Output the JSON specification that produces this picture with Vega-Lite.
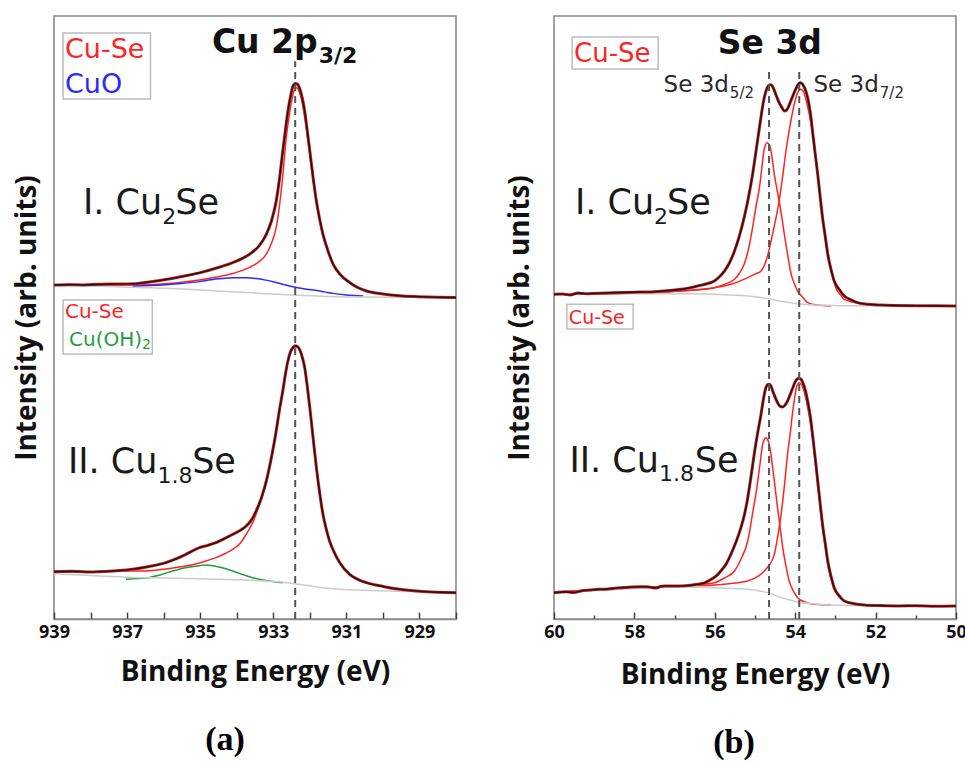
{
 "$schema": "https://vega.github.io/schema/vega-lite/v6.json",
 "background": "white",
 "padding": {"left": 12, "top": 15, "right": 0, "bottom": 0},
 "config": {
  "view": {"stroke": "#8a8a8a", "strokeWidth": 1.6},
  "axis": {"grid": false, "labelFont": "Open Sans", "labelFontWeight": "bold", "titleFont": "Open Sans", "titleFontWeight": "bold", "labelColor": "#111", "titleColor": "#111"},
  "concat": {"spacing": 47}
 },
 "datasets": {
  "a": [
   {"c":"I-d","k":"data","x":939.0,"y":55.4},{"c":"I-d","k":"data","x":938.6,"y":55.45},{"c":"I-d","k":"data","x":938.2,"y":55.4},{"c":"I-d","k":"data","x":937.77,"y":55.5},{"c":"I-d","k":"data","x":937.3,"y":55.55},{"c":"I-d","k":"data","x":936.85,"y":55.6},{"c":"I-d","k":"data","x":936.4,"y":55.9},{"c":"I-d","k":"data","x":935.94,"y":56.3},{"c":"I-d","k":"data","x":935.5,"y":56.8},{"c":"I-d","k":"data","x":935.02,"y":57.4},{"c":"I-d","k":"data","x":934.55,"y":58.2},{"c":"I-d","k":"data","x":934.11,"y":59.1},{"c":"I-d","k":"data","x":933.65,"y":60.5},{"c":"I-d","k":"data","x":933.4,"y":61.8},{"c":"I-d","k":"data","x":933.19,"y":63.8},{"c":"I-d","k":"data","x":933.05,"y":66.0},{"c":"I-d","k":"data","x":932.92,"y":69.3},{"c":"I-d","k":"data","x":932.83,"y":73.0},{"c":"I-d","k":"data","x":932.74,"y":77.6},{"c":"I-d","k":"data","x":932.67,"y":81.0},{"c":"I-d","k":"data","x":932.6,"y":84.2},{"c":"I-d","k":"data","x":932.53,"y":86.6},{"c":"I-d","k":"data","x":932.46,"y":88.4},{"c":"I-d","k":"data","x":932.4,"y":88.8},{"c":"I-d","k":"data","x":932.34,"y":88.7},{"c":"I-d","k":"data","x":932.28,"y":88.0},{"c":"I-d","k":"data","x":932.21,"y":86.5},{"c":"I-d","k":"data","x":932.14,"y":84.2},{"c":"I-d","k":"data","x":932.07,"y":81.0},{"c":"I-d","k":"data","x":932.0,"y":77.6},{"c":"I-d","k":"data","x":931.91,"y":73.2},{"c":"I-d","k":"data","x":931.82,"y":69.3},{"c":"I-d","k":"data","x":931.73,"y":66.3},{"c":"I-d","k":"data","x":931.64,"y":63.8},{"c":"I-d","k":"data","x":931.5,"y":61.0},{"c":"I-d","k":"data","x":931.36,"y":58.8},{"c":"I-d","k":"data","x":931.15,"y":57.0},{"c":"I-d","k":"data","x":930.91,"y":55.8},{"c":"I-d","k":"data","x":930.7,"y":55.0},{"c":"I-d","k":"data","x":930.45,"y":54.4},{"c":"I-d","k":"data","x":930.0,"y":53.9},{"c":"I-d","k":"data","x":929.54,"y":53.6},{"c":"I-d","k":"data","x":929.0,"y":53.45},{"c":"I-d","k":"data","x":928.5,"y":53.35},{"c":"I-d","k":"data","x":928.0,"y":53.3},
   {"c":"I-s","k":"Cu-Se","x":939.0,"y":55.4},{"c":"I-s","k":"Cu-Se","x":938.0,"y":55.4},{"c":"I-s","k":"Cu-Se","x":936.85,"y":55.4},{"c":"I-s","k":"Cu-Se","x":935.94,"y":55.6},{"c":"I-s","k":"Cu-Se","x":935.02,"y":56.2},{"c":"I-s","k":"Cu-Se","x":934.55,"y":56.7},{"c":"I-s","k":"Cu-Se","x":934.11,"y":57.3},{"c":"I-s","k":"Cu-Se","x":933.65,"y":58.3},{"c":"I-s","k":"Cu-Se","x":933.4,"y":59.2},{"c":"I-s","k":"Cu-Se","x":933.19,"y":60.5},{"c":"I-s","k":"Cu-Se","x":933.05,"y":62.3},{"c":"I-s","k":"Cu-Se","x":932.92,"y":64.9},{"c":"I-s","k":"Cu-Se","x":932.83,"y":68.5},{"c":"I-s","k":"Cu-Se","x":932.74,"y":73.5},{"c":"I-s","k":"Cu-Se","x":932.65,"y":79.5},{"c":"I-s","k":"Cu-Se","x":932.55,"y":84.0},{"c":"I-s","k":"Cu-Se","x":932.48,"y":86.5},{"c":"I-s","k":"Cu-Se","x":932.42,"y":87.8},{"c":"I-s","k":"Cu-Se","x":932.36,"y":88.1},{"c":"I-s","k":"Cu-Se","x":932.3,"y":87.6},{"c":"I-s","k":"Cu-Se","x":932.22,"y":85.9},{"c":"I-s","k":"Cu-Se","x":932.14,"y":83.3},{"c":"I-s","k":"Cu-Se","x":932.07,"y":80.2},{"c":"I-s","k":"Cu-Se","x":932.0,"y":77.0},{"c":"I-s","k":"Cu-Se","x":931.91,"y":72.8},{"c":"I-s","k":"Cu-Se","x":931.82,"y":69.0},{"c":"I-s","k":"Cu-Se","x":931.73,"y":66.0},{"c":"I-s","k":"Cu-Se","x":931.64,"y":63.6},{"c":"I-s","k":"Cu-Se","x":931.5,"y":60.9},{"c":"I-s","k":"Cu-Se","x":931.36,"y":58.7},{"c":"I-s","k":"Cu-Se","x":931.15,"y":57.0},{"c":"I-s","k":"Cu-Se","x":930.91,"y":55.8},{"c":"I-s","k":"Cu-Se","x":930.7,"y":55.0},{"c":"I-s","k":"Cu-Se","x":930.45,"y":54.4},{"c":"I-s","k":"Cu-Se","x":930.0,"y":53.9},{"c":"I-s","k":"Cu-Se","x":929.54,"y":53.6},{"c":"I-s","k":"Cu-Se","x":929.0,"y":53.45},{"c":"I-s","k":"Cu-Se","x":928.0,"y":53.3},
   {"c":"I-o","k":"CuO","x":936.85,"y":55.2},{"c":"I-o","k":"CuO","x":936.4,"y":55.3},{"c":"I-o","k":"CuO","x":935.94,"y":55.45},{"c":"I-o","k":"CuO","x":935.5,"y":55.65},{"c":"I-o","k":"CuO","x":935.02,"y":55.95},{"c":"I-o","k":"CuO","x":934.7,"y":56.25},{"c":"I-o","k":"CuO","x":934.4,"y":56.45},{"c":"I-o","k":"CuO","x":934.1,"y":56.6},{"c":"I-o","k":"CuO","x":933.74,"y":56.6},{"c":"I-o","k":"CuO","x":933.45,"y":56.45},{"c":"I-o","k":"CuO","x":933.2,"y":56.2},{"c":"I-o","k":"CuO","x":932.95,"y":55.85},{"c":"I-o","k":"CuO","x":932.7,"y":55.45},{"c":"I-o","k":"CuO","x":932.46,"y":55.1},{"c":"I-o","k":"CuO","x":932.2,"y":54.8},{"c":"I-o","k":"CuO","x":931.9,"y":54.55},{"c":"I-o","k":"CuO","x":931.6,"y":54.25},{"c":"I-o","k":"CuO","x":931.36,"y":54.0},{"c":"I-o","k":"CuO","x":931.0,"y":53.75},{"c":"I-o","k":"CuO","x":930.54,"y":53.57},
   {"c":"I-b","k":"bg","x":939.0,"y":55.35},{"c":"I-b","k":"bg","x":937.5,"y":55.15},{"c":"I-b","k":"bg","x":935.94,"y":54.85},{"c":"I-b","k":"bg","x":935.0,"y":54.55},{"c":"I-b","k":"bg","x":934.11,"y":54.28},{"c":"I-b","k":"bg","x":933.3,"y":54.0},{"c":"I-b","k":"bg","x":932.46,"y":53.73},{"c":"I-b","k":"bg","x":931.5,"y":53.5},{"c":"I-b","k":"bg","x":930.45,"y":53.4},{"c":"I-b","k":"bg","x":929.0,"y":53.32},{"c":"I-b","k":"bg","x":928.0,"y":53.3},
   {"c":"II-d","k":"data","x":939.0,"y":7.85},{"c":"II-d","k":"data","x":938.5,"y":7.9},{"c":"II-d","k":"data","x":938.0,"y":7.8},{"c":"II-d","k":"data","x":937.77,"y":7.85},{"c":"II-d","k":"data","x":937.3,"y":8.0},{"c":"II-d","k":"data","x":936.85,"y":8.24},{"c":"II-d","k":"data","x":936.4,"y":8.7},{"c":"II-d","k":"data","x":935.94,"y":9.34},{"c":"II-d","k":"data","x":935.65,"y":10.0},{"c":"II-d","k":"data","x":935.39,"y":10.72},{"c":"II-d","k":"data","x":935.02,"y":11.83},{"c":"II-d","k":"data","x":934.8,"y":12.2},{"c":"II-d","k":"data","x":934.57,"y":12.66},{"c":"II-d","k":"data","x":934.35,"y":13.3},{"c":"II-d","k":"data","x":934.11,"y":14.04},{"c":"II-d","k":"data","x":933.9,"y":14.7},{"c":"II-d","k":"data","x":933.74,"y":15.42},{"c":"II-d","k":"data","x":933.6,"y":16.4},{"c":"II-d","k":"data","x":933.47,"y":17.91},{"c":"II-d","k":"data","x":933.33,"y":20.0},{"c":"II-d","k":"data","x":933.19,"y":22.89},{"c":"II-d","k":"data","x":933.05,"y":26.8},{"c":"II-d","k":"data","x":932.92,"y":31.18},{"c":"II-d","k":"data","x":932.83,"y":34.7},{"c":"II-d","k":"data","x":932.74,"y":37.81},{"c":"II-d","k":"data","x":932.67,"y":40.5},{"c":"II-d","k":"data","x":932.6,"y":42.79},{"c":"II-d","k":"data","x":932.53,"y":44.3},{"c":"II-d","k":"data","x":932.46,"y":45.0},{"c":"II-d","k":"data","x":932.4,"y":45.3},{"c":"II-d","k":"data","x":932.34,"y":45.2},{"c":"II-d","k":"data","x":932.28,"y":44.72},{"c":"II-d","k":"data","x":932.21,"y":43.5},{"c":"II-d","k":"data","x":932.14,"y":41.68},{"c":"II-d","k":"data","x":932.07,"y":38.6},{"c":"II-d","k":"data","x":932.0,"y":35.05},{"c":"II-d","k":"data","x":931.91,"y":30.0},{"c":"II-d","k":"data","x":931.82,"y":25.1},{"c":"II-d","k":"data","x":931.73,"y":20.9},{"c":"II-d","k":"data","x":931.64,"y":17.36},{"c":"II-d","k":"data","x":931.55,"y":14.9},{"c":"II-d","k":"data","x":931.46,"y":12.94},{"c":"II-d","k":"data","x":931.32,"y":10.9},{"c":"II-d","k":"data","x":931.18,"y":9.34},{"c":"II-d","k":"data","x":930.91,"y":7.41},{"c":"II-d","k":"data","x":930.7,"y":6.6},{"c":"II-d","k":"data","x":930.45,"y":6.03},{"c":"II-d","k":"data","x":930.0,"y":5.4},{"c":"II-d","k":"data","x":929.54,"y":4.92},{"c":"II-d","k":"data","x":929.0,"y":4.6},{"c":"II-d","k":"data","x":928.5,"y":4.45},{"c":"II-d","k":"data","x":928.0,"y":4.37},
   {"c":"II-s","k":"Cu-Se","x":939.0,"y":7.85},{"c":"II-s","k":"Cu-Se","x":938.0,"y":7.85},{"c":"II-s","k":"Cu-Se","x":937.3,"y":7.9},{"c":"II-s","k":"Cu-Se","x":936.85,"y":7.95},{"c":"II-s","k":"Cu-Se","x":936.39,"y":8.02},{"c":"II-s","k":"Cu-Se","x":935.94,"y":8.3},{"c":"II-s","k":"Cu-Se","x":935.48,"y":8.69},{"c":"II-s","k":"Cu-Se","x":935.02,"y":9.3},{"c":"II-s","k":"Cu-Se","x":934.57,"y":10.17},{"c":"II-s","k":"Cu-Se","x":934.3,"y":10.9},{"c":"II-s","k":"Cu-Se","x":934.11,"y":11.55},{"c":"II-s","k":"Cu-Se","x":933.9,"y":12.6},{"c":"II-s","k":"Cu-Se","x":933.74,"y":14.04},{"c":"II-s","k":"Cu-Se","x":933.6,"y":15.5},{"c":"II-s","k":"Cu-Se","x":933.47,"y":17.36},{"c":"II-s","k":"Cu-Se","x":933.33,"y":19.8},{"c":"II-s","k":"Cu-Se","x":933.19,"y":22.6},{"c":"II-s","k":"Cu-Se","x":933.05,"y":26.6},{"c":"II-s","k":"Cu-Se","x":932.92,"y":31.0},{"c":"II-s","k":"Cu-Se","x":932.83,"y":34.6},{"c":"II-s","k":"Cu-Se","x":932.74,"y":37.7},{"c":"II-s","k":"Cu-Se","x":932.67,"y":40.4},{"c":"II-s","k":"Cu-Se","x":932.6,"y":42.7},{"c":"II-s","k":"Cu-Se","x":932.53,"y":44.2},{"c":"II-s","k":"Cu-Se","x":932.46,"y":44.9},{"c":"II-s","k":"Cu-Se","x":932.4,"y":45.2},{"c":"II-s","k":"Cu-Se","x":932.34,"y":45.1},{"c":"II-s","k":"Cu-Se","x":932.28,"y":44.6},{"c":"II-s","k":"Cu-Se","x":932.21,"y":43.4},{"c":"II-s","k":"Cu-Se","x":932.14,"y":41.6},{"c":"II-s","k":"Cu-Se","x":932.07,"y":38.5},{"c":"II-s","k":"Cu-Se","x":932.0,"y":35.0},{"c":"II-s","k":"Cu-Se","x":931.91,"y":30.0},{"c":"II-s","k":"Cu-Se","x":931.82,"y":25.1},{"c":"II-s","k":"Cu-Se","x":931.73,"y":20.9},{"c":"II-s","k":"Cu-Se","x":931.64,"y":17.36},{"c":"II-s","k":"Cu-Se","x":931.55,"y":14.9},{"c":"II-s","k":"Cu-Se","x":931.46,"y":12.94},{"c":"II-s","k":"Cu-Se","x":931.32,"y":10.9},{"c":"II-s","k":"Cu-Se","x":931.18,"y":9.34},{"c":"II-s","k":"Cu-Se","x":930.91,"y":7.41},{"c":"II-s","k":"Cu-Se","x":930.7,"y":6.6},{"c":"II-s","k":"Cu-Se","x":930.45,"y":6.03},{"c":"II-s","k":"Cu-Se","x":930.0,"y":5.4},{"c":"II-s","k":"Cu-Se","x":929.54,"y":4.92},{"c":"II-s","k":"Cu-Se","x":929.0,"y":4.6},{"c":"II-s","k":"Cu-Se","x":928.0,"y":4.37},
   {"c":"II-h","k":"Cu(OH)2","x":937.03,"y":6.58},{"c":"II-h","k":"Cu(OH)2","x":936.7,"y":6.7},{"c":"II-h","k":"Cu(OH)2","x":936.39,"y":6.9},{"c":"II-h","k":"Cu(OH)2","x":936.05,"y":7.4},{"c":"II-h","k":"Cu(OH)2","x":935.75,"y":7.96},{"c":"II-h","k":"Cu(OH)2","x":935.4,"y":8.5},{"c":"II-h","k":"Cu(OH)2","x":935.02,"y":8.85},{"c":"II-h","k":"Cu(OH)2","x":934.89,"y":8.96},{"c":"II-h","k":"Cu(OH)2","x":934.66,"y":8.85},{"c":"II-h","k":"Cu(OH)2","x":934.4,"y":8.5},{"c":"II-h","k":"Cu(OH)2","x":934.11,"y":7.96},{"c":"II-h","k":"Cu(OH)2","x":933.85,"y":7.4},{"c":"II-h","k":"Cu(OH)2","x":933.56,"y":6.85},{"c":"II-h","k":"Cu(OH)2","x":933.2,"y":6.4},{"c":"II-h","k":"Cu(OH)2","x":932.74,"y":6.03},
   {"c":"II-b","k":"bg","x":939.0,"y":7.5},{"c":"II-b","k":"bg","x":938.0,"y":7.2},{"c":"II-b","k":"bg","x":936.85,"y":6.9},{"c":"II-b","k":"bg","x":935.94,"y":6.8},{"c":"II-b","k":"bg","x":935.02,"y":6.69},{"c":"II-b","k":"bg","x":934.0,"y":6.5},{"c":"II-b","k":"bg","x":933.19,"y":6.3},{"c":"II-b","k":"bg","x":932.46,"y":5.9},{"c":"II-b","k":"bg","x":931.9,"y":5.4},{"c":"II-b","k":"bg","x":931.36,"y":5.0},{"c":"II-b","k":"bg","x":930.5,"y":4.75},{"c":"II-b","k":"bg","x":929.54,"y":4.6},{"c":"II-b","k":"bg","x":928.0,"y":4.37}
  ],
  "b": [
   {"c":"I-d","k":"data","x":60.0,"y":53.84},{"c":"I-d","k":"data","x":59.8,"y":53.9},{"c":"I-d","k":"data","x":59.6,"y":53.75},{"c":"I-d","k":"data","x":59.4,"y":54.05},{"c":"I-d","k":"data","x":59.2,"y":53.95},{"c":"I-d","k":"data","x":59.0,"y":54.0},{"c":"I-d","k":"data","x":58.5,"y":54.12},{"c":"I-d","k":"data","x":58.0,"y":54.2},{"c":"I-d","k":"data","x":57.67,"y":54.23},{"c":"I-d","k":"data","x":57.2,"y":54.45},{"c":"I-d","k":"data","x":56.84,"y":54.67},{"c":"I-d","k":"data","x":56.6,"y":54.95},{"c":"I-d","k":"data","x":56.43,"y":55.22},{"c":"I-d","k":"data","x":56.2,"y":55.6},{"c":"I-d","k":"data","x":56.01,"y":56.05},{"c":"I-d","k":"data","x":55.88,"y":56.8},{"c":"I-d","k":"data","x":55.76,"y":57.71},{"c":"I-d","k":"data","x":55.64,"y":59.0},{"c":"I-d","k":"data","x":55.51,"y":61.03},{"c":"I-d","k":"data","x":55.39,"y":63.5},{"c":"I-d","k":"data","x":55.27,"y":66.56},{"c":"I-d","k":"data","x":55.16,"y":70.0},{"c":"I-d","k":"data","x":55.06,"y":73.74},{"c":"I-d","k":"data","x":54.97,"y":77.8},{"c":"I-d","k":"data","x":54.89,"y":81.48},{"c":"I-d","k":"data","x":54.83,"y":84.2},{"c":"I-d","k":"data","x":54.77,"y":86.45},{"c":"I-d","k":"data","x":54.72,"y":87.7},{"c":"I-d","k":"data","x":54.67,"y":88.39},{"c":"I-d","k":"data","x":54.63,"y":88.6},{"c":"I-d","k":"data","x":54.58,"y":88.5},{"c":"I-d","k":"data","x":54.52,"y":87.67},{"c":"I-d","k":"data","x":54.46,"y":86.6},{"c":"I-d","k":"data","x":54.4,"y":85.63},{"c":"I-d","k":"data","x":54.33,"y":84.8},{"c":"I-d","k":"data","x":54.27,"y":84.25},{"c":"I-d","k":"data","x":54.22,"y":84.35},{"c":"I-d","k":"data","x":54.17,"y":84.9},{"c":"I-d","k":"data","x":54.11,"y":85.9},{"c":"I-d","k":"data","x":54.06,"y":86.73},{"c":"I-d","k":"data","x":54.0,"y":87.7},{"c":"I-d","k":"data","x":53.94,"y":88.5},{"c":"I-d","k":"data","x":53.88,"y":88.95},{"c":"I-d","k":"data","x":53.82,"y":88.7},{"c":"I-d","k":"data","x":53.76,"y":88.0},{"c":"I-d","k":"data","x":53.69,"y":86.45},{"c":"I-d","k":"data","x":53.62,"y":83.8},{"c":"I-d","k":"data","x":53.56,"y":80.38},{"c":"I-d","k":"data","x":53.5,"y":77.0},{"c":"I-d","k":"data","x":53.44,"y":73.74},{"c":"I-d","k":"data","x":53.38,"y":70.1},{"c":"I-d","k":"data","x":53.32,"y":66.56},{"c":"I-d","k":"data","x":53.25,"y":63.3},{"c":"I-d","k":"data","x":53.19,"y":60.48},{"c":"I-d","k":"data","x":53.11,"y":58.0},{"c":"I-d","k":"data","x":53.03,"y":56.05},{"c":"I-d","k":"data","x":52.9,"y":54.6},{"c":"I-d","k":"data","x":52.78,"y":53.57},{"c":"I-d","k":"data","x":52.6,"y":52.9},{"c":"I-d","k":"data","x":52.45,"y":52.46},{"c":"I-d","k":"data","x":52.2,"y":52.2},{"c":"I-d","k":"data","x":51.87,"y":52.07},{"c":"I-d","k":"data","x":51.5,"y":52.0},{"c":"I-d","k":"data","x":51.04,"y":51.96},{"c":"I-d","k":"data","x":50.5,"y":51.93},{"c":"I-d","k":"data","x":50.0,"y":51.91},
   {"c":"I-5","k":"Cu-Se","x":60.0,"y":53.84},{"c":"I-5","k":"Cu-Se","x":58.5,"y":54.0},{"c":"I-5","k":"Cu-Se","x":57.67,"y":54.1},{"c":"I-5","k":"Cu-Se","x":56.84,"y":54.39},{"c":"I-5","k":"Cu-Se","x":56.43,"y":54.6},{"c":"I-5","k":"Cu-Se","x":56.01,"y":54.95},{"c":"I-5","k":"Cu-Se","x":55.76,"y":55.5},{"c":"I-5","k":"Cu-Se","x":55.51,"y":56.33},{"c":"I-5","k":"Cu-Se","x":55.39,"y":57.3},{"c":"I-5","k":"Cu-Se","x":55.27,"y":58.82},{"c":"I-5","k":"Cu-Se","x":55.16,"y":61.4},{"c":"I-5","k":"Cu-Se","x":55.06,"y":64.9},{"c":"I-5","k":"Cu-Se","x":54.97,"y":68.6},{"c":"I-5","k":"Cu-Se","x":54.89,"y":71.53},{"c":"I-5","k":"Cu-Se","x":54.83,"y":74.8},{"c":"I-5","k":"Cu-Se","x":54.78,"y":77.61},{"c":"I-5","k":"Cu-Se","x":54.74,"y":78.6},{"c":"I-5","k":"Cu-Se","x":54.7,"y":78.99},{"c":"I-5","k":"Cu-Se","x":54.66,"y":78.8},{"c":"I-5","k":"Cu-Se","x":54.62,"y":78.17},{"c":"I-5","k":"Cu-Se","x":54.57,"y":76.3},{"c":"I-5","k":"Cu-Se","x":54.52,"y":73.74},{"c":"I-5","k":"Cu-Se","x":54.46,"y":71.5},{"c":"I-5","k":"Cu-Se","x":54.4,"y":69.32},{"c":"I-5","k":"Cu-Se","x":54.33,"y":66.5},{"c":"I-5","k":"Cu-Se","x":54.27,"y":63.8},{"c":"I-5","k":"Cu-Se","x":54.19,"y":60.5},{"c":"I-5","k":"Cu-Se","x":54.1,"y":57.16},{"c":"I-5","k":"Cu-Se","x":54.02,"y":55.6},{"c":"I-5","k":"Cu-Se","x":53.94,"y":54.39},{"c":"I-5","k":"Cu-Se","x":53.82,"y":53.4},{"c":"I-5","k":"Cu-Se","x":53.69,"y":52.46},{"c":"I-5","k":"Cu-Se","x":53.5,"y":52.1},{"c":"I-5","k":"Cu-Se","x":53.11,"y":51.91},
   {"c":"I-7","k":"Cu-Se","x":60.0,"y":53.84},{"c":"I-7","k":"Cu-Se","x":58.5,"y":53.95},{"c":"I-7","k":"Cu-Se","x":57.67,"y":54.12},{"c":"I-7","k":"Cu-Se","x":56.84,"y":54.39},{"c":"I-7","k":"Cu-Se","x":56.01,"y":54.95},{"c":"I-7","k":"Cu-Se","x":55.6,"y":55.5},{"c":"I-7","k":"Cu-Se","x":55.18,"y":56.61},{"c":"I-7","k":"Cu-Se","x":55.0,"y":57.2},{"c":"I-7","k":"Cu-Se","x":54.85,"y":57.71},{"c":"I-7","k":"Cu-Se","x":54.72,"y":59.5},{"c":"I-7","k":"Cu-Se","x":54.6,"y":62.69},{"c":"I-7","k":"Cu-Se","x":54.5,"y":65.8},{"c":"I-7","k":"Cu-Se","x":54.4,"y":69.32},{"c":"I-7","k":"Cu-Se","x":54.31,"y":73.5},{"c":"I-7","k":"Cu-Se","x":54.23,"y":77.61},{"c":"I-7","k":"Cu-Se","x":54.14,"y":81.4},{"c":"I-7","k":"Cu-Se","x":54.06,"y":84.25},{"c":"I-7","k":"Cu-Se","x":54.0,"y":86.0},{"c":"I-7","k":"Cu-Se","x":53.94,"y":87.29},{"c":"I-7","k":"Cu-Se","x":53.9,"y":87.7},{"c":"I-7","k":"Cu-Se","x":53.86,"y":87.84},{"c":"I-7","k":"Cu-Se","x":53.81,"y":87.6},{"c":"I-7","k":"Cu-Se","x":53.77,"y":87.01},{"c":"I-7","k":"Cu-Se","x":53.71,"y":85.5},{"c":"I-7","k":"Cu-Se","x":53.65,"y":83.7},{"c":"I-7","k":"Cu-Se","x":53.58,"y":81.0},{"c":"I-7","k":"Cu-Se","x":53.52,"y":78.17},{"c":"I-7","k":"Cu-Se","x":53.46,"y":74.9},{"c":"I-7","k":"Cu-Se","x":53.4,"y":71.53},{"c":"I-7","k":"Cu-Se","x":53.34,"y":68.2},{"c":"I-7","k":"Cu-Se","x":53.28,"y":64.9},{"c":"I-7","k":"Cu-Se","x":53.21,"y":61.9},{"c":"I-7","k":"Cu-Se","x":53.15,"y":59.37},{"c":"I-7","k":"Cu-Se","x":53.07,"y":57.0},{"c":"I-7","k":"Cu-Se","x":52.99,"y":54.95},{"c":"I-7","k":"Cu-Se","x":52.88,"y":53.8},{"c":"I-7","k":"Cu-Se","x":52.78,"y":53.01},{"c":"I-7","k":"Cu-Se","x":52.5,"y":52.45},{"c":"I-7","k":"Cu-Se","x":52.28,"y":52.18},{"c":"I-7","k":"Cu-Se","x":51.5,"y":52.0},{"c":"I-7","k":"Cu-Se","x":50.0,"y":51.91},
   {"c":"I-b","k":"bg","x":60.0,"y":53.95},{"c":"I-b","k":"bg","x":58.0,"y":53.95},{"c":"I-b","k":"bg","x":56.84,"y":53.95},{"c":"I-b","k":"bg","x":56.0,"y":53.85},{"c":"I-b","k":"bg","x":55.5,"y":53.7},{"c":"I-b","k":"bg","x":55.18,"y":53.57},{"c":"I-b","k":"bg","x":54.9,"y":53.35},{"c":"I-b","k":"bg","x":54.67,"y":53.13},{"c":"I-b","k":"bg","x":54.4,"y":52.74},{"c":"I-b","k":"bg","x":54.15,"y":52.5},{"c":"I-b","k":"bg","x":53.94,"y":52.29},{"c":"I-b","k":"bg","x":53.52,"y":52.07},{"c":"I-b","k":"bg","x":52.5,"y":51.95},{"c":"I-b","k":"bg","x":50.0,"y":51.91},
   {"c":"II-d","k":"data","x":60.0,"y":4.37},{"c":"II-d","k":"data","x":59.7,"y":4.5},{"c":"II-d","k":"data","x":59.5,"y":4.4},{"c":"II-d","k":"data","x":59.33,"y":4.64},{"c":"II-d","k":"data","x":59.1,"y":4.8},{"c":"II-d","k":"data","x":58.91,"y":4.92},{"c":"II-d","k":"data","x":58.7,"y":4.95},{"c":"II-d","k":"data","x":58.5,"y":5.09},{"c":"II-d","k":"data","x":58.3,"y":5.2},{"c":"II-d","k":"data","x":58.08,"y":5.31},{"c":"II-d","k":"data","x":57.85,"y":5.35},{"c":"II-d","k":"data","x":57.67,"y":5.36},{"c":"II-d","k":"data","x":57.55,"y":5.2},{"c":"II-d","k":"data","x":57.45,"y":5.15},{"c":"II-d","k":"data","x":57.35,"y":5.4},{"c":"II-d","k":"data","x":57.26,"y":5.47},{"c":"II-d","k":"data","x":56.84,"y":5.47},{"c":"II-d","k":"data","x":56.43,"y":5.75},{"c":"II-d","k":"data","x":56.25,"y":6.0},{"c":"II-d","k":"data","x":56.09,"y":6.58},{"c":"II-d","k":"data","x":55.97,"y":7.1},{"c":"II-d","k":"data","x":55.85,"y":7.96},{"c":"II-d","k":"data","x":55.72,"y":9.1},{"c":"II-d","k":"data","x":55.6,"y":10.72},{"c":"II-d","k":"data","x":55.47,"y":12.8},{"c":"II-d","k":"data","x":55.35,"y":15.15},{"c":"II-d","k":"data","x":55.26,"y":17.4},{"c":"II-d","k":"data","x":55.18,"y":20.12},{"c":"II-d","k":"data","x":55.1,"y":23.6},{"c":"II-d","k":"data","x":55.02,"y":27.31},{"c":"II-d","k":"data","x":54.93,"y":31.0},{"c":"II-d","k":"data","x":54.85,"y":33.94},{"c":"II-d","k":"data","x":54.79,"y":36.5},{"c":"II-d","k":"data","x":54.73,"y":38.36},{"c":"II-d","k":"data","x":54.68,"y":38.9},{"c":"II-d","k":"data","x":54.64,"y":38.92},{"c":"II-d","k":"data","x":54.6,"y":38.6},{"c":"II-d","k":"data","x":54.56,"y":37.81},{"c":"II-d","k":"data","x":54.5,"y":36.8},{"c":"II-d","k":"data","x":54.44,"y":35.88},{"c":"II-d","k":"data","x":54.38,"y":35.3},{"c":"II-d","k":"data","x":54.31,"y":35.16},{"c":"II-d","k":"data","x":54.25,"y":35.5},{"c":"II-d","k":"data","x":54.19,"y":36.15},{"c":"II-d","k":"data","x":54.12,"y":37.3},{"c":"II-d","k":"data","x":54.06,"y":38.36},{"c":"II-d","k":"data","x":54.01,"y":39.2},{"c":"II-d","k":"data","x":53.96,"y":39.75},{"c":"II-d","k":"data","x":53.9,"y":39.91},{"c":"II-d","k":"data","x":53.85,"y":39.7},{"c":"II-d","k":"data","x":53.81,"y":39.19},{"c":"II-d","k":"data","x":53.75,"y":38.0},{"c":"II-d","k":"data","x":53.69,"y":36.15},{"c":"II-d","k":"data","x":53.62,"y":33.4},{"c":"II-d","k":"data","x":53.56,"y":30.07},{"c":"II-d","k":"data","x":53.5,"y":26.6},{"c":"II-d","k":"data","x":53.44,"y":22.89},{"c":"II-d","k":"data","x":53.38,"y":19.2},{"c":"II-d","k":"data","x":53.32,"y":15.7},{"c":"II-d","k":"data","x":53.25,"y":12.4},{"c":"II-d","k":"data","x":53.19,"y":9.62},{"c":"II-d","k":"data","x":53.11,"y":7.1},{"c":"II-d","k":"data","x":53.03,"y":5.2},{"c":"II-d","k":"data","x":52.9,"y":3.8},{"c":"II-d","k":"data","x":52.78,"y":2.99},{"c":"II-d","k":"data","x":52.5,"y":2.5},{"c":"II-d","k":"data","x":52.28,"y":2.32},{"c":"II-d","k":"data","x":51.9,"y":2.22},{"c":"II-d","k":"data","x":51.45,"y":2.16},{"c":"II-d","k":"data","x":51.0,"y":2.2},{"c":"II-d","k":"data","x":50.5,"y":2.12},{"c":"II-d","k":"data","x":50.0,"y":2.16},
   {"c":"II-5","k":"Cu-Se","x":60.0,"y":4.37},{"c":"II-5","k":"Cu-Se","x":58.5,"y":5.09},{"c":"II-5","k":"Cu-Se","x":57.67,"y":5.36},{"c":"II-5","k":"Cu-Se","x":56.84,"y":5.47},{"c":"II-5","k":"Cu-Se","x":56.4,"y":5.7},{"c":"II-5","k":"Cu-Se","x":56.01,"y":6.02},{"c":"II-5","k":"Cu-Se","x":55.76,"y":6.8},{"c":"II-5","k":"Cu-Se","x":55.51,"y":7.96},{"c":"II-5","k":"Cu-Se","x":55.35,"y":9.9},{"c":"II-5","k":"Cu-Se","x":55.18,"y":12.94},{"c":"II-5","k":"Cu-Se","x":55.06,"y":17.5},{"c":"II-5","k":"Cu-Se","x":54.93,"y":22.89},{"c":"II-5","k":"Cu-Se","x":54.87,"y":26.0},{"c":"II-5","k":"Cu-Se","x":54.81,"y":28.97},{"c":"II-5","k":"Cu-Se","x":54.77,"y":29.8},{"c":"II-5","k":"Cu-Se","x":54.73,"y":30.07},{"c":"II-5","k":"Cu-Se","x":54.7,"y":29.9},{"c":"II-5","k":"Cu-Se","x":54.67,"y":29.52},{"c":"II-5","k":"Cu-Se","x":54.61,"y":27.6},{"c":"II-5","k":"Cu-Se","x":54.56,"y":25.1},{"c":"II-5","k":"Cu-Se","x":54.5,"y":21.8},{"c":"II-5","k":"Cu-Se","x":54.44,"y":18.46},{"c":"II-5","k":"Cu-Se","x":54.37,"y":15.0},{"c":"II-5","k":"Cu-Se","x":54.31,"y":11.83},{"c":"II-5","k":"Cu-Se","x":54.23,"y":8.8},{"c":"II-5","k":"Cu-Se","x":54.15,"y":6.3},{"c":"II-5","k":"Cu-Se","x":54.05,"y":4.7},{"c":"II-5","k":"Cu-Se","x":53.94,"y":3.54},{"c":"II-5","k":"Cu-Se","x":53.75,"y":2.8},{"c":"II-5","k":"Cu-Se","x":53.52,"y":2.43},{"c":"II-5","k":"Cu-Se","x":53.11,"y":2.32},
   {"c":"II-7","k":"Cu-Se","x":60.0,"y":4.37},{"c":"II-7","k":"Cu-Se","x":58.5,"y":5.0},{"c":"II-7","k":"Cu-Se","x":56.84,"y":5.47},{"c":"II-7","k":"Cu-Se","x":56.01,"y":5.64},{"c":"II-7","k":"Cu-Se","x":55.6,"y":5.9},{"c":"II-7","k":"Cu-Se","x":55.18,"y":6.3},{"c":"II-7","k":"Cu-Se","x":54.9,"y":7.2},{"c":"II-7","k":"Cu-Se","x":54.77,"y":7.96},{"c":"II-7","k":"Cu-Se","x":54.64,"y":9.0},{"c":"II-7","k":"Cu-Se","x":54.52,"y":10.72},{"c":"II-7","k":"Cu-Se","x":54.44,"y":13.5},{"c":"II-7","k":"Cu-Se","x":54.35,"y":17.36},{"c":"II-7","k":"Cu-Se","x":54.27,"y":22.0},{"c":"II-7","k":"Cu-Se","x":54.19,"y":27.31},{"c":"II-7","k":"Cu-Se","x":54.12,"y":31.0},{"c":"II-7","k":"Cu-Se","x":54.06,"y":34.49},{"c":"II-7","k":"Cu-Se","x":54.01,"y":36.8},{"c":"II-7","k":"Cu-Se","x":53.96,"y":38.64},{"c":"II-7","k":"Cu-Se","x":53.93,"y":39.0},{"c":"II-7","k":"Cu-Se","x":53.9,"y":39.19},{"c":"II-7","k":"Cu-Se","x":53.85,"y":38.9},{"c":"II-7","k":"Cu-Se","x":53.81,"y":38.36},{"c":"II-7","k":"Cu-Se","x":53.75,"y":37.0},{"c":"II-7","k":"Cu-Se","x":53.69,"y":35.05},{"c":"II-7","k":"Cu-Se","x":53.62,"y":32.5},{"c":"II-7","k":"Cu-Se","x":53.56,"y":29.52},{"c":"II-7","k":"Cu-Se","x":53.5,"y":26.0},{"c":"II-7","k":"Cu-Se","x":53.44,"y":22.33},{"c":"II-7","k":"Cu-Se","x":53.38,"y":18.7},{"c":"II-7","k":"Cu-Se","x":53.32,"y":15.15},{"c":"II-7","k":"Cu-Se","x":53.25,"y":11.9},{"c":"II-7","k":"Cu-Se","x":53.19,"y":9.07},{"c":"II-7","k":"Cu-Se","x":53.11,"y":6.7},{"c":"II-7","k":"Cu-Se","x":53.03,"y":4.92},{"c":"II-7","k":"Cu-Se","x":52.9,"y":3.7},{"c":"II-7","k":"Cu-Se","x":52.78,"y":2.99},{"c":"II-7","k":"Cu-Se","x":52.4,"y":2.4},{"c":"II-7","k":"Cu-Se","x":51.5,"y":2.2},{"c":"II-7","k":"Cu-Se","x":50.0,"y":2.16},
   {"c":"II-b","k":"bg","x":60.0,"y":4.37},{"c":"II-b","k":"bg","x":58.5,"y":4.9},{"c":"II-b","k":"bg","x":57.5,"y":5.2},{"c":"II-b","k":"bg","x":56.84,"y":5.31},{"c":"II-b","k":"bg","x":56.0,"y":5.2},{"c":"II-b","k":"bg","x":55.5,"y":5.05},{"c":"II-b","k":"bg","x":55.18,"y":4.92},{"c":"II-b","k":"bg","x":54.9,"y":4.65},{"c":"II-b","k":"bg","x":54.67,"y":4.37},{"c":"II-b","k":"bg","x":54.35,"y":3.54},{"c":"II-b","k":"bg","x":54.1,"y":3.1},{"c":"II-b","k":"bg","x":53.94,"y":2.82},{"c":"II-b","k":"bg","x":53.5,"y":2.5},{"c":"II-b","k":"bg","x":53.11,"y":2.32},{"c":"II-b","k":"bg","x":52.0,"y":2.18},{"c":"II-b","k":"bg","x":50.0,"y":2.16}
  ],
  "aRule": [{"x": 932.4, "y": 0, "y2": 92.5}],
  "bRule": [{"x": 54.65, "y": 0, "y2": 91.2}, {"x": 53.9, "y": 0, "y2": 91.2}],
  "aBox": [{"x": 938.75, "x2": 936.36, "y": 86.24, "y2": 97.18}, {"x": 938.75, "x2": 936.31, "y": 43.95, "y2": 52.9}],
  "bBox": [{"x": 59.55, "x2": 57.41, "y": 91.2, "y2": 96.5}, {"x": 59.68, "x2": 58.03, "y": 48.1, "y2": 52.2}],
  "aText": [
   {"r": "headR", "t": "Cu 2p", "x": 931.785, "y": 93.9},
   {"r": "headSub", "t": "3/2", "x": 931.785, "y": 92.2},
   {"r": "sampR", "t": "I. Cu", "x": 936.04, "y": 67.16},
   {"r": "sampR", "t": "II. Cu", "x": 936.17, "y": 24.2},
   {"r": "sampSub", "t": "2", "x": 936.04, "y": 65.5},
   {"r": "sampSub", "t": "1.8", "x": 936.17, "y": 22.55},
   {"r": "sampL", "t": "Se", "x": 935.68, "y": 67.16},
   {"r": "sampL", "t": "Se", "x": 935.22, "y": 24.2},
   {"r": "leg1", "t": "Cu-Se", "k": "Cu-Se", "x": 938.7, "y": 93.03},
   {"r": "leg1", "t": "CuO", "k": "CuO", "x": 938.7, "y": 87.23},
   {"r": "leg2", "t": "Cu-Se", "k": "Cu-Se", "x": 938.7, "y": 49.9},
   {"r": "leg2R", "t": "Cu(OH)", "k": "Cu(OH)2", "x": 936.59, "y": 45.27},
   {"r": "leg2Sub", "t": "2", "k": "Cu(OH)2", "x": 936.59, "y": 44.78}
  ],
  "bText": [
   {"r": "head", "t": "Se 3d", "x": 54.63, "y": 93.7},
   {"r": "sampR", "t": "I. Cu", "x": 57.51, "y": 67.16},
   {"r": "sampR", "t": "II. Cu", "x": 57.39, "y": 24.4},
   {"r": "sampSub", "t": "2", "x": 57.51, "y": 65.5},
   {"r": "sampSub", "t": "1.8", "x": 57.39, "y": 22.9},
   {"r": "sampL", "t": "Se", "x": 57.19, "y": 67.16},
   {"r": "sampL", "t": "Se", "x": 56.5, "y": 24.4},
   {"r": "peakR", "t": "Se 3d", "x": 55.65, "y": 87.4},
   {"r": "peakR", "t": "Se 3d", "x": 51.92, "y": 87.4},
   {"r": "peakSub", "t": "5/2", "x": 55.65, "y": 86.4},
   {"r": "peakSub", "t": "7/2", "x": 51.92, "y": 86.4},
   {"r": "leg1", "t": "Cu-Se", "k": "Cu-Se", "x": 59.5, "y": 92.37},
   {"r": "leg2", "t": "Cu-Se", "k": "Cu-Se", "x": 59.63, "y": 48.9}
  ]
 },
 "hconcat": [
  {
   "width": 402, "height": 603,
   "title": {"text": "(a)", "orient": "bottom", "font": "Liberation Serif", "fontWeight": "bold", "fontSize": 34, "color": "#000", "dx": -30, "offset": 37},
   "encoding": {
    "x": {"field": "x", "type": "quantitative",
     "scale": {"domain": [928, 939], "reverse": true, "nice": false, "zero": false},
     "axis": {"title": "Binding Energy (eV)", "values": [928,928.5,929,929.5,930,930.5,931,931.5,932,932.5,933,933.5,934,934.5,935,935.5,936,936.5,937,937.5,938,938.5,939],
      "labelExpr": "datum.value % 2 == 1 ? datum.label : ''", "format": "d",
      "tickSize": {"condition": {"test": "datum.value % 1 == 0", "value": -7}, "value": -4},
      "tickColor": "#444", "tickWidth": 1.5, "domainColor": "#8a8a8a", "domainWidth": 1.6,
      "labelFontSize": 18, "labelPadding": 11, "labelOverlap": false, "labelFlush": false,
      "titleFontSize": 28, "titlePadding": 17}},
    "y": {"field": "y", "type": "quantitative",
     "scale": {"domain": [0, 100], "nice": false, "zero": false},
     "axis": {"title": "Intensity (arb. units)", "labels": false, "ticks": false, "domain": false, "titleFontSize": 28, "titlePadding": 13}}
   },
   "layer": [
    {"data": {"name": "a"}, "transform": [{"filter": "datum.k != 'data'"}],
     "mark": {"type": "line", "interpolate": "monotone", "strokeWidth": 1.5, "clip": true},
     "encoding": {"color": {"field": "k", "type": "nominal", "legend": null, "scale": {"domain": ["Cu-Se", "CuO", "Cu(OH)2", "bg", "data"], "range": ["#ff2424", "#2a2aff", "#1f9e3f", "#cccccc", "#1a1a1a"]}}, "detail": {"field": "c"}}},
    {"data": {"name": "a"}, "transform": [{"filter": "datum.k == 'data'"}],
     "mark": {"type": "line", "interpolate": "monotone", "strokeWidth": 3, "color": "#e02020", "clip": true},
     "encoding": {"detail": {"field": "c"}}},
    {"data": {"name": "a"}, "transform": [{"filter": "datum.k == 'data'"}],
     "mark": {"type": "line", "interpolate": "monotone", "strokeWidth": 1.6, "color": "#1a1a1a", "clip": true},
     "encoding": {"detail": {"field": "c"}}},
    {"data": {"name": "aRule"}, "mark": {"type": "rule", "color": "#555", "strokeWidth": 2, "strokeDash": [7, 5]},
     "encoding": {"y2": {"field": "y2"}}},
    {"data": {"name": "aBox"}, "mark": {"type": "rect", "fill": "white", "stroke": "#bdbdbd", "strokeWidth": 1.5},
     "encoding": {"x2": {"field": "x2"}, "y2": {"field": "y2"}}},
    {"data": {"name": "aText"}, "transform": [{"filter": "datum.r == 'headR'"}],
     "mark": {"type": "text", "font": "DejaVu Sans", "fontWeight": "bold", "fontSize": 33, "align": "right", "baseline": "alphabetic", "color": "#111"},
     "encoding": {"text": {"field": "t"}}},
    {"data": {"name": "aText"}, "transform": [{"filter": "datum.r == 'headSub'"}],
     "mark": {"type": "text", "font": "DejaVu Sans", "fontWeight": "bold", "fontSize": 22, "align": "left", "baseline": "alphabetic", "dx": 1, "color": "#111"},
     "encoding": {"text": {"field": "t"}}},
    {"data": {"name": "aText"}, "transform": [{"filter": "datum.r == 'sampR'"}],
     "mark": {"type": "text", "font": "DejaVu Sans", "fontSize": 35, "align": "right", "baseline": "alphabetic", "color": "#1a1a1a"},
     "encoding": {"text": {"field": "t"}}},
    {"data": {"name": "aText"}, "transform": [{"filter": "datum.r == 'sampSub'"}],
     "mark": {"type": "text", "font": "DejaVu Sans", "fontSize": 22, "align": "left", "baseline": "alphabetic", "color": "#1a1a1a"},
     "encoding": {"text": {"field": "t"}}},
    {"data": {"name": "aText"}, "transform": [{"filter": "datum.r == 'sampL'"}],
     "mark": {"type": "text", "font": "DejaVu Sans", "fontSize": 35, "align": "left", "baseline": "alphabetic", "color": "#1a1a1a"},
     "encoding": {"text": {"field": "t"}}},
    {"data": {"name": "aText"}, "transform": [{"filter": "datum.r == 'leg1'"}],
     "mark": {"type": "text", "font": "DejaVu Sans", "fontSize": 27, "align": "left", "baseline": "alphabetic"},
     "encoding": {"text": {"field": "t"}, "color": {"field": "k", "type": "nominal", "legend": null}}},
    {"data": {"name": "aText"}, "transform": [{"filter": "datum.r == 'leg2'"}],
     "mark": {"type": "text", "font": "DejaVu Sans", "fontSize": 20, "align": "left", "baseline": "alphabetic"},
     "encoding": {"text": {"field": "t"}, "color": {"field": "k", "type": "nominal", "legend": null}}},
    {"data": {"name": "aText"}, "transform": [{"filter": "datum.r == 'leg2R'"}],
     "mark": {"type": "text", "font": "DejaVu Sans", "fontSize": 20, "align": "right", "baseline": "alphabetic"},
     "encoding": {"text": {"field": "t"}, "color": {"field": "k", "type": "nominal", "legend": null}}},
    {"data": {"name": "aText"}, "transform": [{"filter": "datum.r == 'leg2Sub'"}],
     "mark": {"type": "text", "font": "DejaVu Sans", "fontSize": 14, "align": "left", "baseline": "alphabetic"},
     "encoding": {"text": {"field": "t"}, "color": {"field": "k", "type": "nominal", "legend": null}}}
   ]
  },
  {
   "width": 402, "height": 603,
   "title": {"text": "(b)", "orient": "bottom", "font": "Liberation Serif", "fontWeight": "bold", "fontSize": 34, "color": "#000", "dx": -21, "offset": 37},
   "encoding": {
    "x": {"field": "x", "type": "quantitative",
     "scale": {"domain": [50, 60], "reverse": true, "nice": false, "zero": false},
     "axis": {"title": "Binding Energy (eV)", "values": [50,51,52,53,54,55,56,57,58,59,60],
      "labelExpr": "datum.value % 2 == 0 ? datum.label : ''", "format": "d",
      "tickSize": {"condition": {"test": "datum.value % 2 == 0", "value": -7}, "value": -4},
      "tickColor": "#444", "tickWidth": 1.5, "domainColor": "#8a8a8a", "domainWidth": 1.6,
      "labelFontSize": 18, "labelPadding": 11, "labelOverlap": false, "labelFlush": false,
      "titleFontSize": 28, "titlePadding": 17}},
    "y": {"field": "y", "type": "quantitative",
     "scale": {"domain": [0, 100], "nice": false, "zero": false},
     "axis": {"title": "Intensity (arb. units)", "labels": false, "ticks": false, "domain": false, "titleFontSize": 28, "titlePadding": 20}}
   },
   "layer": [
    {"data": {"name": "b"}, "transform": [{"filter": "datum.k != 'data'"}],
     "mark": {"type": "line", "interpolate": "monotone", "strokeWidth": 1.5, "clip": true},
     "encoding": {"color": {"field": "k", "type": "nominal", "legend": null, "scale": {"domain": ["Cu-Se", "CuO", "Cu(OH)2", "bg", "data"], "range": ["#ff2424", "#2a2aff", "#1f9e3f", "#cccccc", "#1a1a1a"]}}, "detail": {"field": "c"}}},
    {"data": {"name": "b"}, "transform": [{"filter": "datum.k == 'data'"}],
     "mark": {"type": "line", "interpolate": "monotone", "strokeWidth": 3, "color": "#e02020", "clip": true},
     "encoding": {"detail": {"field": "c"}}},
    {"data": {"name": "b"}, "transform": [{"filter": "datum.k == 'data'"}],
     "mark": {"type": "line", "interpolate": "monotone", "strokeWidth": 1.6, "color": "#1a1a1a", "clip": true},
     "encoding": {"detail": {"field": "c"}}},
    {"data": {"name": "bRule"}, "mark": {"type": "rule", "color": "#555", "strokeWidth": 2, "strokeDash": [7, 5]},
     "encoding": {"y2": {"field": "y2"}}},
    {"data": {"name": "bBox"}, "mark": {"type": "rect", "fill": "white", "stroke": "#bdbdbd", "strokeWidth": 1.5},
     "encoding": {"x2": {"field": "x2"}, "y2": {"field": "y2"}}},
    {"data": {"name": "bText"}, "transform": [{"filter": "datum.r == 'head'"}],
     "mark": {"type": "text", "font": "DejaVu Sans", "fontWeight": "bold", "fontSize": 33, "align": "center", "baseline": "alphabetic", "color": "#111"},
     "encoding": {"text": {"field": "t"}}},
    {"data": {"name": "bText"}, "transform": [{"filter": "datum.r == 'sampR'"}],
     "mark": {"type": "text", "font": "DejaVu Sans", "fontSize": 35, "align": "right", "baseline": "alphabetic", "color": "#1a1a1a"},
     "encoding": {"text": {"field": "t"}}},
    {"data": {"name": "bText"}, "transform": [{"filter": "datum.r == 'sampSub'"}],
     "mark": {"type": "text", "font": "DejaVu Sans", "fontSize": 22, "align": "left", "baseline": "alphabetic", "color": "#1a1a1a"},
     "encoding": {"text": {"field": "t"}}},
    {"data": {"name": "bText"}, "transform": [{"filter": "datum.r == 'sampL'"}],
     "mark": {"type": "text", "font": "DejaVu Sans", "fontSize": 35, "align": "left", "baseline": "alphabetic", "color": "#1a1a1a"},
     "encoding": {"text": {"field": "t"}}},
    {"data": {"name": "bText"}, "transform": [{"filter": "datum.r == 'peakR'"}],
     "mark": {"type": "text", "font": "DejaVu Sans", "fontSize": 23, "align": "right", "baseline": "alphabetic", "color": "#2a2a2a"},
     "encoding": {"text": {"field": "t"}}},
    {"data": {"name": "bText"}, "transform": [{"filter": "datum.r == 'peakSub'"}],
     "mark": {"type": "text", "font": "DejaVu Sans", "fontSize": 15, "align": "left", "baseline": "alphabetic", "dx": 1, "color": "#2a2a2a"},
     "encoding": {"text": {"field": "t"}}},
    {"data": {"name": "bText"}, "transform": [{"filter": "datum.r == 'leg1'"}],
     "mark": {"type": "text", "font": "DejaVu Sans", "fontSize": 26, "align": "left", "baseline": "alphabetic"},
     "encoding": {"text": {"field": "t"}, "color": {"field": "k", "type": "nominal", "legend": null}}},
    {"data": {"name": "bText"}, "transform": [{"filter": "datum.r == 'leg2'"}],
     "mark": {"type": "text", "font": "DejaVu Sans", "fontSize": 19, "align": "left", "baseline": "alphabetic"},
     "encoding": {"text": {"field": "t"}, "color": {"field": "k", "type": "nominal", "legend": null}}}
   ]
  }
 ]
}
